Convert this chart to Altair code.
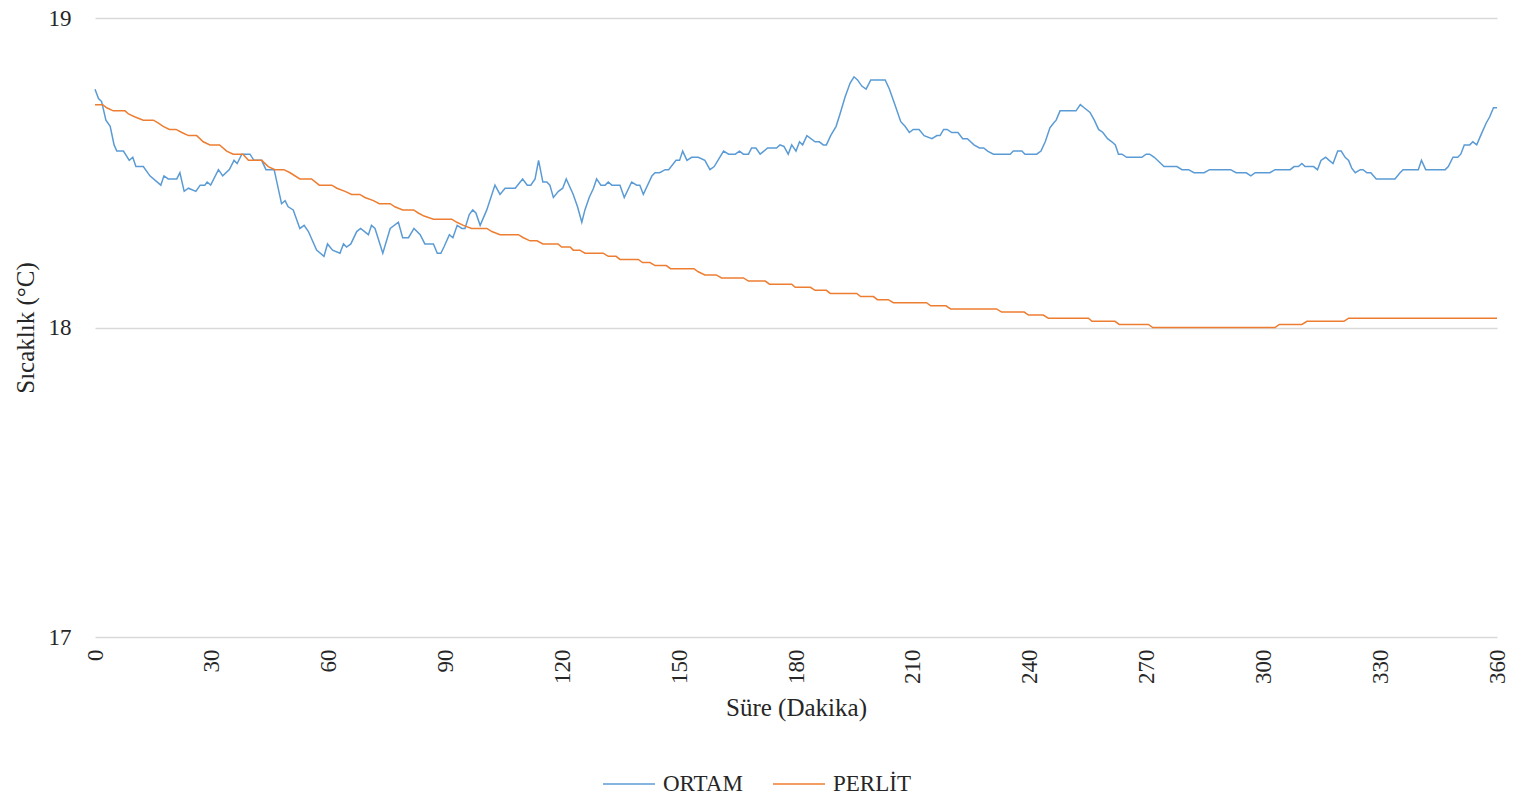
import altair as alt
import pandas as pd

# ORTAM (ambient) readings: time (min) and temperature (°C)
ortam_t = [0, 0.9, 1.7, 2.8, 3.9, 4.9, 5.6, 7.3, 8.8, 9.7, 10.5, 12.4, 14.1, 16.9, 17.7, 18.8, 21, 21.8, 22.9, 24,
           25.9, 27, 28.2, 28.8, 29.7, 31.7, 32.8, 34.5, 35.7, 36.5, 37.7, 39.8, 40.8, 42.8, 43.9, 46, 47.9, 48.8, 49.6, 50.9,
           52.6, 53.7, 54.8, 56.9, 58.8, 59.7, 61, 62.9, 63.8, 64.6, 65.7, 67.2, 68.2, 70.2, 71, 71.9, 73.9, 75.8, 77.9, 79,
           80.5, 81.9, 83.5, 84.7, 86.9, 87.9, 88.8, 89.6, 91, 91.9, 93, 94.2, 95, 96.1, 97, 97.8, 98.9, 100.6, 102.7, 104,
           105.3, 107.9, 109.8, 111, 111.9, 113, 113.9, 115, 116, 116.8, 117.7, 119, 120.1, 121, 122.8, 123.9, 125, 125.8, 126.9, 128,
           128.8, 129.9, 131, 131.8, 132.7, 134.8, 135.9, 137.8, 139.1, 139.9, 140.8, 143, 143.8, 145, 146.4, 147.3, 149.2, 150.1, 150.9, 152,
           153.2, 154.9, 156.6, 157.9, 159, 161.4, 162.7, 164.4, 165.5, 166.5, 167.8, 168.6, 169.7, 170.8, 172.7, 175, 175.9, 176.9, 178, 178.9,
           180, 180.9, 181.7, 182.8, 184.9, 186, 187, 187.8, 188.9, 190.3, 191.3, 192.6, 193.9, 194.9, 195.8, 196.9, 198, 199.2, 202.9, 204,
           205.4, 206.9, 208, 209.1, 210.1, 211.6, 212.9, 214.9, 216.2, 217, 217.9, 218.8, 220, 221.6, 222.8, 224, 225.7, 227.1, 228.2, 229.2,
           230.7, 235, 235.8, 238, 238.8, 241.8, 242.9, 244, 245.2, 246.1, 246.8, 247.8, 251.9, 253, 254, 255.5, 256.6, 257.7, 258.8, 260,
           261.1, 262, 262.8, 263.7, 264.9, 268.8, 269.9, 270.8, 272, 274.5, 277.8, 279.1, 280.8, 282.2, 284.8, 286.2, 291.6, 293, 295.6, 296.8,
           297.9, 301.7, 303, 306.9, 307.9, 309, 309.9, 310.7, 312.9, 313.9, 314.8, 316, 316.9, 317.9, 319.1, 320, 321, 321.9, 322.7, 323.6,
           324.9, 325.6, 326.6, 327.6, 329, 333.8, 335.1, 335.9, 339.8, 340.6, 341.7, 346.7, 347.5, 348.7, 349.9, 350.7, 351.6, 353, 353.8, 354.8,
           355.8, 357.2, 358.1, 359.1, 360]
ortam_v = [18.77, 18.74, 18.73, 18.67, 18.65, 18.59, 18.57, 18.57, 18.54, 18.55, 18.52, 18.52, 18.49, 18.46, 18.49, 18.48, 18.48, 18.50, 18.44, 18.45,
           18.44, 18.46, 18.46, 18.47, 18.46, 18.51, 18.49, 18.51, 18.54, 18.53, 18.56, 18.56, 18.54, 18.54, 18.51, 18.51, 18.40, 18.41, 18.39, 18.38,
           18.32, 18.33, 18.31, 18.25, 18.23, 18.27, 18.25, 18.24, 18.27, 18.26, 18.27, 18.31, 18.32, 18.30, 18.33, 18.32, 18.24, 18.32, 18.34, 18.29,
           18.29, 18.32, 18.30, 18.27, 18.27, 18.24, 18.24, 18.26, 18.30, 18.29, 18.33, 18.32, 18.32, 18.365, 18.38, 18.37, 18.33, 18.38, 18.46, 18.43,
           18.45, 18.45, 18.48, 18.46, 18.46, 18.48, 18.54, 18.47, 18.47, 18.46, 18.42, 18.44, 18.45, 18.48, 18.43, 18.39, 18.34, 18.38, 18.42, 18.45,
           18.48, 18.46, 18.46, 18.47, 18.46, 18.46, 18.42, 18.47, 18.46, 18.46, 18.43, 18.49, 18.50, 18.50, 18.51, 18.51, 18.54, 18.54, 18.57, 18.54,
           18.55, 18.55, 18.54, 18.51, 18.52, 18.57, 18.56, 18.56, 18.57, 18.56, 18.56, 18.58, 18.58, 18.56, 18.58, 18.58, 18.59, 18.585, 18.56, 18.59,
           18.57, 18.60, 18.59, 18.62, 18.60, 18.60, 18.59, 18.59, 18.62, 18.65, 18.69, 18.745, 18.79, 18.81, 18.80, 18.78, 18.77, 18.80, 18.80, 18.77,
           18.72, 18.665, 18.65, 18.63, 18.64, 18.64, 18.62, 18.61, 18.62, 18.62, 18.64, 18.64, 18.63, 18.63, 18.61, 18.61, 18.59, 18.58, 18.58, 18.57,
           18.56, 18.56, 18.57, 18.57, 18.56, 18.56, 18.57, 18.60, 18.645, 18.66, 18.67, 18.70, 18.70, 18.72, 18.71, 18.695, 18.67, 18.64, 18.63, 18.61,
           18.60, 18.59, 18.56, 18.56, 18.55, 18.55, 18.56, 18.56, 18.55, 18.52, 18.52, 18.51, 18.51, 18.50, 18.50, 18.51, 18.51, 18.50, 18.50, 18.49,
           18.50, 18.50, 18.51, 18.51, 18.52, 18.52, 18.53, 18.52, 18.52, 18.51, 18.54, 18.55, 18.54, 18.53, 18.57, 18.57, 18.55, 18.54, 18.515, 18.50,
           18.51, 18.51, 18.50, 18.50, 18.48, 18.48, 18.50, 18.51, 18.51, 18.54, 18.51, 18.51, 18.52, 18.55, 18.55, 18.56, 18.59, 18.59, 18.60, 18.59,
           18.62, 18.66, 18.68, 18.71, 18.71]

# PERLIT readings: time (min) and temperature (°C)
perlit_t = [0, 2, 3, 4.7, 7.7, 8.6, 10.3, 12.4, 15, 16.3, 17.5, 19.1, 20.8, 22.3, 24, 26.1, 27.8, 29.5, 32, 33.8,
            35.5, 38, 39.4, 42.8, 44.5, 46.2, 48.5, 50.1, 52.6, 55.6, 57.6, 60.8, 62.1, 64.2, 65.9, 68, 69.3, 71.5, 73, 75.8,
            77, 79, 81.8, 83, 84.5, 86.9, 91.6, 92.9, 94.6, 96.7, 100.6, 101.9, 104, 108.7, 110, 111.7, 113.5, 115, 118.9, 119.8,
            122, 122.8, 124.5, 125.8, 130.5, 131.8, 133.8, 134.8, 139.5, 140.6, 142.5, 143.8, 146.7, 147.8, 153.8, 154.9, 156.6, 159.5, 160.9, 166.5,
            167.8, 172.1, 173.2, 178.9, 179.8, 183.7, 184.9, 187.8, 188.8, 195.6, 196.6, 199.9, 200.9, 203.7, 205, 213.5, 214.6, 218.5, 219.7, 231.5,
            232.8, 238.6, 239.7, 243.5, 244.8, 255.1, 256, 261.9, 263, 270.5, 271.6, 303, 304.1, 309.9, 311.2, 320.7, 321.9, 360]
perlit_v = [18.72, 18.72, 18.71, 18.70, 18.70, 18.69, 18.68, 18.67, 18.67, 18.66, 18.65, 18.64, 18.64, 18.63, 18.62, 18.62, 18.60, 18.59, 18.59, 18.57,
            18.56, 18.56, 18.54, 18.54, 18.52, 18.51, 18.51, 18.50, 18.48, 18.48, 18.46, 18.46, 18.45, 18.44, 18.43, 18.43, 18.42, 18.41, 18.40, 18.40,
            18.39, 18.38, 18.38, 18.37, 18.36, 18.35, 18.35, 18.34, 18.33, 18.32, 18.32, 18.31, 18.30, 18.30, 18.29, 18.28, 18.28, 18.27, 18.27, 18.26,
            18.26, 18.25, 18.25, 18.24, 18.24, 18.23, 18.23, 18.22, 18.22, 18.21, 18.21, 18.20, 18.20, 18.19, 18.19, 18.18, 18.17, 18.17, 18.16, 18.16,
            18.15, 18.15, 18.14, 18.14, 18.13, 18.13, 18.12, 18.12, 18.11, 18.11, 18.10, 18.10, 18.09, 18.09, 18.08, 18.08, 18.07, 18.07, 18.06, 18.06,
            18.05, 18.05, 18.04, 18.04, 18.03, 18.03, 18.02, 18.02, 18.01, 18.01, 18.00, 18.00, 18.01, 18.01, 18.02, 18.02, 18.03, 18.03]

series_names = ["ORTAM", "PERLİT"]
series_colors = ["#5B9BD5", "#ED7D31"]
x_ticks = list(range(0, 361, 30))
y_ticks = [17.0, 18.0, 19.0]

df = pd.concat([
    pd.DataFrame({"t": ortam_t, "v": ortam_v, "seri": series_names[0], "o": range(len(ortam_t))}),
    pd.DataFrame({"t": perlit_t, "v": perlit_v, "seri": series_names[1], "o": range(len(perlit_t))}),
])

FONT = "Liberation Serif"

chart = alt.Chart(df).mark_line(strokeWidth=1.5).encode(
    x=alt.X("t:Q", scale=alt.Scale(domain=[0, 360], nice=False),
            axis=alt.Axis(values=x_ticks, title="Süre (Dakika)", labelAngle=-90, labelPadding=12,
                          ticks=False, domain=False, grid=False, titlePadding=12, format="d")),
    y=alt.Y("v:Q", scale=alt.Scale(domain=[17, 19], nice=False, zero=False),
            axis=alt.Axis(values=y_ticks, title="Sıcaklık (°C)", labelPadding=24, ticks=False, format=".0f",
                          labelOverlap=False, domain=False, grid=True, gridColor="#d9d9d9", gridWidth=1.5,
                          titlePadding=10)),
    color=alt.Color("seri:N", scale=alt.Scale(domain=series_names, range=series_colors),
                    legend=alt.Legend(title=None, orient="none", legendX=507, legendY=739,
                                      direction="horizontal", symbolType="stroke", symbolSize=2700,
                                      symbolStrokeWidth=1.5, labelOffset=7, columnPadding=27,
                                      labelFontSize=23, labelFont=FONT, labelColor="#262626")),
    order="o:Q",
).properties(
    width=1402, height=619,
    autosize=alt.AutoSizeParams(type="none"),
    padding={"left": 87, "top": 10, "right": 12, "bottom": 158},
).configure_view(stroke=None).configure_axis(
    labelFont=FONT, titleFont=FONT, labelFontSize=23, titleFontSize=25,
    labelColor="#262626", titleColor="#262626", titleFontWeight="normal",
)

chart.save("out.html", embed_options={"renderer": "svg", "actions": False})
